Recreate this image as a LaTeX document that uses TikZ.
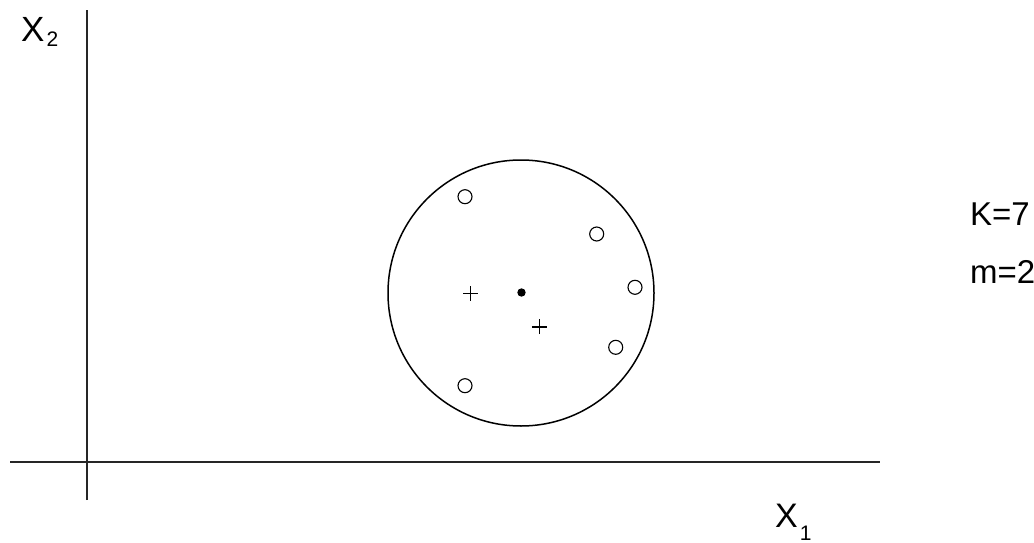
\documentclass[tikz,border=0pt]{standalone}
\usepackage{fontspec}
\setmainfont{Liberation Sans}
\begin{document}
\begin{tikzpicture}[x=1pt,y=-1pt,
  axis/.style={line width=1.6pt,draw=black!85},
  hollow/.style={circle,draw,line width=1.1pt,minimum size=14pt,inner sep=0pt},
  plusmark/.style={line width=1.6pt},
  lbl/.style={inner sep=0pt,anchor=base west}]
\useasboundingbox (0,0) rectangle (1034,543);
% axes
\coordinate (ytop) at (87,10);
\coordinate (ybot) at (87,500);
\coordinate (xl) at (10,462);
\coordinate (xr) at (880,462);
\draw[axis] (ybot) -- (ytop);
\draw[axis] (xl) -- (xr);
% labels
\node[lbl] (x2) at (21,42) {\fontsize{35}{35}\selectfont X\kern2pt\raisebox{-5pt}{\fontsize{21}{21}\selectfont 2}};
\node[lbl] (x1) at (775,527) {\fontsize{34}{34}\selectfont X\kern2pt\raisebox{-13pt}{\fontsize{21}{21}\selectfont 1}};
\node[lbl] (k) at (970,225) {\fontsize{33}{33}\selectfont K=7};
\node[lbl] (m) at (970,283) {\fontsize{33}{33}\selectfont m=2};
% circle
\node[circle,draw,line width=1.5pt,minimum size=266pt,inner sep=0pt] (big) at (521,293) {};
\fill (521.5,292.5) circle (4.2pt) coordinate (ctr);
% plus marks
\coordinate (p1) at (470.5,293.3);
\coordinate (p2) at (539.3,326.7);
\draw[plusmark] ([xshift=-7.5pt]p1) -- ([xshift=7.5pt]p1) ([yshift=-7.5pt]p1) -- ([yshift=7.5pt]p1);
\draw[plusmark] ([xshift=-7.5pt]p2) -- ([xshift=7.5pt]p2) ([yshift=-7.5pt]p2) -- ([yshift=7.5pt]p2);
% hollow points
\node[hollow] (o1) at (465,196.7) {};
\node[hollow] (o2) at (596.7,234) {};
\node[hollow] (o3) at (635,287.3) {};
\node[hollow] (o4) at (615.7,347.3) {};
\node[hollow] (o5) at (465,385.7) {};
\end{tikzpicture}
\end{document}
